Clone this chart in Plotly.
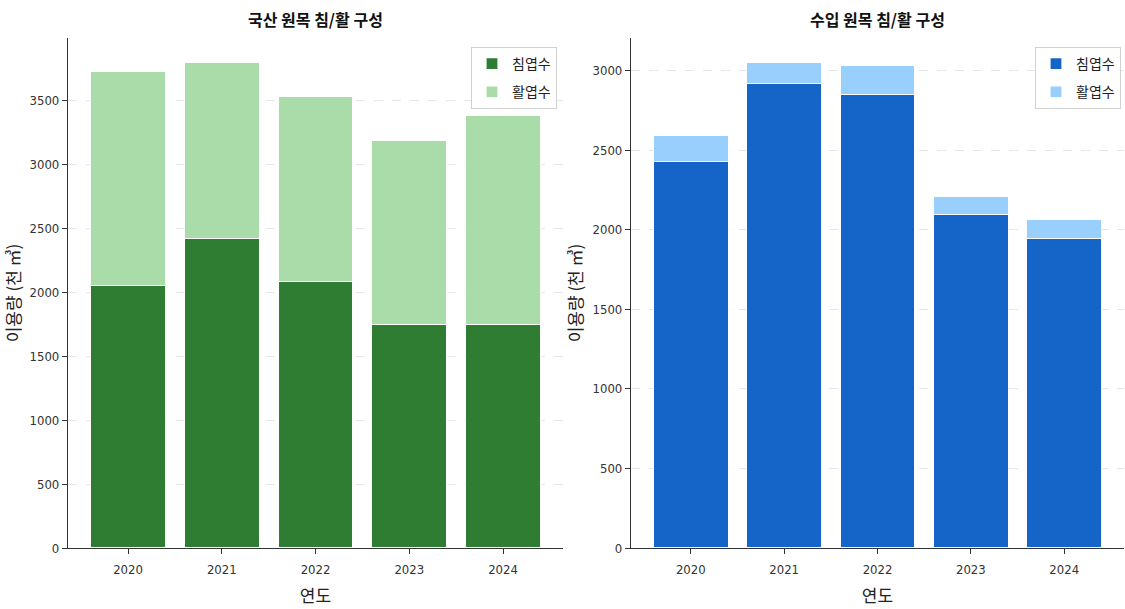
import plotly.graph_objects as go

years = ["2020", "2021", "2022", "2023", "2024"]
dom_conifer = [2052, 2420, 2083, 1746, 1746]
dom_broad = [1675, 1378, 1449, 1441, 1637]
imp_conifer = [2428, 2918, 2849, 2094, 1943]
imp_broad = [163, 132, 182, 114, 120]

series_names = ["침엽수", "활엽수"]
titles = ["국산 원목 침/활 구성", "수입 원목 침/활 구성"]
y_title = "이용량 (천 ㎥)"
x_title = "연도"

FONT = "Noto Sans CJK KR"
TICKFONT = "DejaVu Sans Condensed, Noto Sans CJK KR"
W, H = 1125, 609

fig = go.Figure()
xi = list(range(len(years)))

panels = [
    (dom_conifer, dom_broad, "#2e7d32", "#aadcaa", "x", "y"),
    (imp_conifer, imp_broad, "#1565c8", "#99cffd", "x2", "y2"),
]

for k, (c, b, col1, col2, xa, ya) in enumerate(panels):
    lg = "legend" if k == 0 else "legend2"
    fig.add_trace(go.Bar(x=xi, y=c, name=series_names[0], marker=dict(color=col1, line=dict(color="white", width=1.2)),
                         width=0.8, xaxis=xa, yaxis=ya, legend=lg, legendgroup=f"a{k}"))
    fig.add_trace(go.Bar(x=xi, y=b, name=series_names[1], marker=dict(color=col2, line=dict(color="white", width=1.2)),
                         width=0.8, xaxis=xa, yaxis=ya, legend=lg, legendgroup=f"b{k}"))

axis_common = dict(showline=True, linecolor="#333333", linewidth=1.2, ticks="outside", ticklen=5,
                   tickcolor="#333333", tickfont=dict(family=TICKFONT, size=13, color="#333333"),
                   zeroline=False, automargin=False)

def xd(a, b):
    return [a / W, b / W]

ydom = [1 - 548 / H, 1 - 38 / H]
title_font = dict(family=FONT, size=17, color="#222222")
leg_common = dict(yanchor="top", xanchor="right", bordercolor="#d0d0d0", borderwidth=1,
                  bgcolor="rgba(255,255,255,0.9)", font=dict(family=FONT, size=14),
                  traceorder="grouped", tracegroupgap=7)

fig.update_layout(
    width=W, height=H, barmode="stack",
    plot_bgcolor="white", paper_bgcolor="white",
    margin=dict(l=0, r=0, t=0, b=0),
    font=dict(family=FONT, color="#222222"),
    xaxis=dict(domain=xd(68, 563), range=[-0.64, 4.64], tickvals=xi, ticktext=years, showgrid=False,
               ticklabelstandoff=4, title=dict(text=x_title, font=title_font, standoff=14), **axis_common),
    xaxis2=dict(domain=xd(631, 1124), range=[-0.64, 4.64], tickvals=xi, ticktext=years, showgrid=False,
                ticklabelstandoff=4, title=dict(text=x_title, font=title_font, standoff=14), **axis_common),
    yaxis=dict(domain=ydom, range=[0, 3990], tickvals=[0, 500, 1000, 1500, 2000, 2500, 3000, 3500],
               showgrid=True, gridcolor="#e6e6e6", griddash="dash", gridwidth=1, anchor="x",
               title=dict(text=y_title, font=title_font, standoff=5), **axis_common),
    yaxis2=dict(domain=ydom, range=[0, 3205], tickvals=[0, 500, 1000, 1500, 2000, 2500, 3000],
                showgrid=True, gridcolor="#e6e6e6", griddash="dash", gridwidth=1, anchor="x2",
                title=dict(text=y_title, font=title_font, standoff=5), **axis_common),
    legend=dict(x=557 / W, y=1 - 47 / H, **leg_common),
    legend2=dict(x=1121 / W, y=1 - 47 / H, **leg_common),
    showlegend=True,
)

for t, cx in zip(titles, [315, 877]):
    fig.add_annotation(text=f"<b>{t}</b>", x=cx / W, y=1 - 19 / H, xref="paper", yref="paper",
                       showarrow=False, font=dict(family=FONT, size=16, color="#111111"),
                       xanchor="center", yanchor="middle")

fig.write_html("out.html", config={"displayModeBar": False},
               post_script="document.body.style.margin='0px';document.body.style.overflow='hidden';")
